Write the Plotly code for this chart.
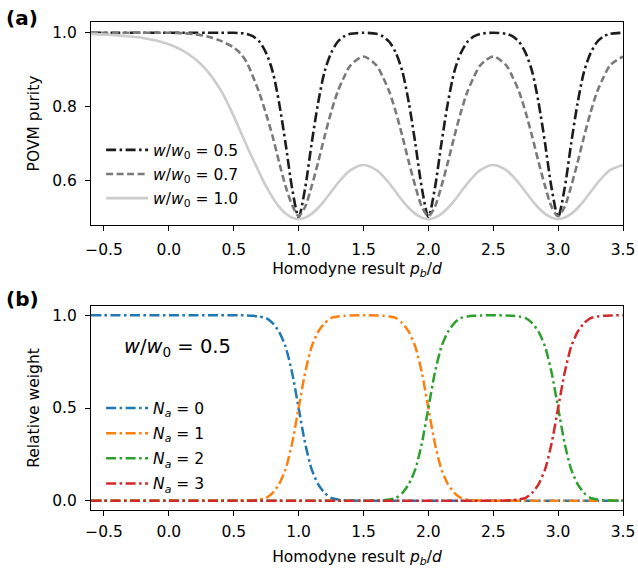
import plotly.graph_objects as go

# ---------------- data ----------------
p_b = [-0.6, -0.5, -0.4, -0.3, -0.2, -0.1, 0.0, 0.1, 0.2, 0.3, 0.4, 0.5, 0.55, 0.6, 0.65, 0.7, 0.75, 0.8, 0.85, 0.9, 0.95,
       1.0, 1.05, 1.1, 1.15, 1.2, 1.25, 1.3, 1.35, 1.4, 1.5, 1.6, 1.65, 1.7, 1.75, 1.8, 1.85, 1.9, 1.95,
       2.0, 2.05, 2.1, 2.15, 2.2, 2.25, 2.3, 2.35, 2.4, 2.5, 2.6, 2.65, 2.7, 2.75, 2.8, 2.85, 2.9, 2.95,
       3.0, 3.05, 3.1, 3.15, 3.2, 3.25, 3.3, 3.35, 3.4, 3.5]

purity_w05 = [1.0, 1.0, 1.0, 1.0, 1.0, 1.0, 1.0, 1.0, 1.0, 1.0, 1.0, 1.0, 0.999, 0.997, 0.99, 0.975, 0.945, 0.895, 0.81, 0.70, 0.58,
              0.502, 0.58, 0.70, 0.81, 0.895, 0.945, 0.975, 0.99, 0.997, 1.0, 0.997, 0.99, 0.975, 0.945, 0.895, 0.81, 0.70, 0.58,
              0.503, 0.58, 0.70, 0.81, 0.895, 0.945, 0.975, 0.99, 0.997, 1.0, 0.997, 0.99, 0.975, 0.945, 0.895, 0.81, 0.70, 0.58,
              0.503, 0.58, 0.70, 0.81, 0.895, 0.945, 0.975, 0.99, 0.997, 1.0]

purity_w07 = [1.0, 1.0, 1.0, 1.0, 1.0, 1.0, 1.0, 0.999, 0.996, 0.99, 0.978, 0.96, 0.945, 0.92, 0.88, 0.835, 0.78, 0.72, 0.65, 0.585, 0.535,
              0.505, 0.53, 0.585, 0.65, 0.72, 0.785, 0.84, 0.88, 0.912, 0.936, 0.912, 0.88, 0.84, 0.785, 0.72, 0.65, 0.585, 0.53,
              0.505, 0.53, 0.585, 0.65, 0.72, 0.785, 0.84, 0.88, 0.912, 0.936, 0.912, 0.88, 0.84, 0.785, 0.72, 0.65, 0.585, 0.53,
              0.505, 0.53, 0.585, 0.65, 0.72, 0.785, 0.84, 0.88, 0.912, 0.936]

purity_w10 = [0.997, 0.995, 0.993, 0.99, 0.986, 0.979, 0.969, 0.953, 0.93, 0.895, 0.845, 0.775, 0.735, 0.695, 0.657, 0.62, 0.585, 0.555, 0.53, 0.512, 0.501,
              0.497, 0.501, 0.511, 0.527, 0.547, 0.57, 0.593, 0.613, 0.629, 0.643, 0.629, 0.613, 0.593, 0.57, 0.547, 0.527, 0.511, 0.501,
              0.497, 0.501, 0.511, 0.527, 0.547, 0.57, 0.593, 0.613, 0.629, 0.643, 0.629, 0.613, 0.593, 0.57, 0.547, 0.527, 0.511, 0.501,
              0.497, 0.501, 0.511, 0.527, 0.547, 0.57, 0.593, 0.613, 0.629, 0.643]

weight_N0 = [1.0, 1.0, 1.0, 1.0, 1.0, 1.0, 1.0, 1.0, 1.0, 1.0, 1.0, 1.0, 1.0, 0.999, 0.997, 0.993, 0.985, 0.958, 0.91, 0.83, 0.69,
             0.5, 0.31, 0.17, 0.09, 0.042, 0.015, 0.007, 0.003, 0.001, 0.0, 0.0, 0.0, 0.0, 0.0, 0.0, 0.0, 0.0, 0.0,
             0.0, 0.0, 0.0, 0.0, 0.0, 0.0, 0.0, 0.0, 0.0, 0.0, 0.0, 0.0, 0.0, 0.0, 0.0, 0.0, 0.0, 0.0,
             0.0, 0.0, 0.0, 0.0, 0.0, 0.0, 0.0, 0.0, 0.0, 0.0]

weight_N1 = [0.0, 0.0, 0.0, 0.0, 0.0, 0.0, 0.0, 0.0, 0.0, 0.0, 0.0, 0.0, 0.0, 0.001, 0.003, 0.007, 0.015, 0.042, 0.09, 0.17, 0.31,
             0.5, 0.69, 0.83, 0.91, 0.958, 0.985, 0.993, 0.997, 0.999, 1.0, 0.999, 0.997, 0.993, 0.985, 0.958, 0.91, 0.83, 0.69,
             0.5, 0.31, 0.17, 0.09, 0.042, 0.015, 0.007, 0.003, 0.001, 0.0, 0.0, 0.0, 0.0, 0.0, 0.0, 0.0, 0.0, 0.0,
             0.0, 0.0, 0.0, 0.0, 0.0, 0.0, 0.0, 0.0, 0.0, 0.0]

weight_N2 = [0.0, 0.0, 0.0, 0.0, 0.0, 0.0, 0.0, 0.0, 0.0, 0.0, 0.0, 0.0, 0.0, 0.0, 0.0, 0.0, 0.0, 0.0, 0.0, 0.0, 0.0,
             0.0, 0.0, 0.0, 0.0, 0.0, 0.0, 0.0, 0.0, 0.0, 0.0, 0.001, 0.003, 0.007, 0.015, 0.042, 0.09, 0.17, 0.31,
             0.5, 0.69, 0.83, 0.91, 0.958, 0.985, 0.993, 0.997, 0.999, 1.0, 0.999, 0.997, 0.993, 0.985, 0.958, 0.91, 0.83, 0.69,
             0.5, 0.31, 0.17, 0.09, 0.042, 0.015, 0.007, 0.003, 0.001, 0.0]

weight_N3 = [0.0, 0.0, 0.0, 0.0, 0.0, 0.0, 0.0, 0.0, 0.0, 0.0, 0.0, 0.0, 0.0, 0.0, 0.0, 0.0, 0.0, 0.0, 0.0, 0.0, 0.0,
             0.0, 0.0, 0.0, 0.0, 0.0, 0.0, 0.0, 0.0, 0.0, 0.0, 0.0, 0.0, 0.0, 0.0, 0.0, 0.0, 0.0, 0.0,
             0.0, 0.0, 0.0, 0.0, 0.0, 0.0, 0.0, 0.0, 0.0, 0.0, 0.001, 0.003, 0.007, 0.015, 0.042, 0.09, 0.17, 0.31,
             0.5, 0.69, 0.83, 0.91, 0.958, 0.985, 0.993, 0.997, 0.999, 1.0]

purity_labels = ["<i>w</i>/<i>w</i><sub>0</sub> = 0.5",
                 "<i>w</i>/<i>w</i><sub>0</sub> = 0.7",
                 "<i>w</i>/<i>w</i><sub>0</sub> = 1.0"]
weight_labels = ["<i>N</i><sub><i>a</i></sub> = 0", "<i>N</i><sub><i>a</i></sub> = 1",
                 "<i>N</i><sub><i>a</i></sub> = 2", "<i>N</i><sub><i>a</i></sub> = 3"]
x_ticks = [-0.5, 0.0, 0.5, 1.0, 1.5, 2.0, 2.5, 3.0, 3.5]
purity_ticks = [0.6, 0.8, 1.0]
weight_ticks = [0.0, 0.5, 1.0]

# ---------------- figure ----------------
FONT = "DejaVu Sans"
DASHDOT = "10px,3.5px,2.5px,3.5px"

fig = go.Figure()

top_styles = [("#1c1c1c", DASHDOT), ("#7a7a7a", "7px,3.5px"), ("#cccccc", "solid")]
for ys, lab, (col, dash), grp in zip([purity_w05, purity_w07, purity_w10], purity_labels, top_styles, ["a", "b", "c"]):
    fig.add_trace(go.Scatter(x=p_b, y=ys, mode="lines", name=lab, legend="legend", legendgroup=grp,
                             line=dict(color=col, width=2.6, dash=dash, shape="spline", smoothing=0.8),
                             xaxis="x", yaxis="y"))

bottom_colors = ["#1f77b4", "#ff7f0e", "#2ca02c", "#d62728"]
for ys, lab, col, grp in zip([weight_N0, weight_N1, weight_N2, weight_N3], weight_labels, bottom_colors, ["d", "e", "f", "g"]):
    fig.add_trace(go.Scatter(x=p_b, y=ys, mode="lines", name=lab, legend="legend2", legendgroup=grp,
                             line=dict(color=col, width=2.5, dash=DASHDOT, shape="spline", smoothing=0.6),
                             xaxis="x2", yaxis="y2"))

axis_common = dict(showline=True, mirror=True, linecolor="black", linewidth=1.1, ticks="outside",
                   ticklen=5, tickwidth=1.1, tickcolor="black", showgrid=False, zeroline=False,
                   automargin=False, tickfont=dict(family=FONT, size=15.5, color="black"))
xtitle = "Homodyne result <i>p</i><sub><i>b</i></sub>/<i>d</i>"
TFONT = dict(family=FONT, size=15.5, color="black")

fig.update_layout(
    width=638, height=572,
    margin=dict(l=91, r=15, t=22, b=62),
    paper_bgcolor="white", plot_bgcolor="white",
    font=dict(family=FONT, size=15, color="black"),
    xaxis=dict(domain=[0, 1], anchor="y", range=[-0.6, 3.5], tickvals=x_ticks, tickformat=".1f",
               ticklabelstandoff=5, title=dict(text=xtitle, font=TFONT, standoff=5), **axis_common),
    yaxis=dict(domain=[0.584, 1.0], anchor="x", range=[0.481, 1.029], tickvals=purity_ticks, tickformat=".1f",
               ticklabelstandoff=5, title=dict(text="POVM purity", font=TFONT, standoff=8), **axis_common),
    xaxis2=dict(domain=[0, 1], anchor="y2", range=[-0.6, 3.5], tickvals=x_ticks, tickformat=".1f",
                ticklabelstandoff=2, title=dict(text=xtitle, font=TFONT, standoff=11), **axis_common),
    yaxis2=dict(domain=[0.0, 0.418], anchor="x2", range=[-0.05, 1.05], tickvals=weight_ticks, tickformat=".1f",
                ticklabelstandoff=5, title=dict(text="Relative weight", font=TFONT, standoff=8), **axis_common),
    legend=dict(x=0.019, y=0.772, xanchor="left", yanchor="top", bgcolor="rgba(0,0,0,0)", itemwidth=42,
                font=dict(family=FONT, size=15.5), tracegroupgap=1),
    legend2=dict(x=0.019, y=0.243, xanchor="left", yanchor="top", bgcolor="rgba(0,0,0,0)", itemwidth=42,
                 font=dict(family=FONT, size=15.5), tracegroupgap=2),
    annotations=[
        dict(text="<b>(a)</b>", xref="paper", yref="paper", x=-0.164, y=1.008, xanchor="left", yanchor="middle",
             showarrow=False, font=dict(family=FONT, size=20)),
        dict(text="<b>(b)</b>", xref="paper", yref="paper", x=-0.164, y=0.432, xanchor="left", yanchor="middle",
             showarrow=False, font=dict(family=FONT, size=20)),
        dict(text="<i>w</i>/<i>w</i><sub>0</sub> = 0.5", xref="paper", yref="paper", x=0.058, y=0.334,
             xanchor="left", yanchor="middle", showarrow=False, font=dict(family=FONT, size=19.5)),
    ],
)

fig.write_html("out.html", config={"displayModeBar": False},
               post_script="document.body.style.margin='0';document.body.style.overflow='hidden';")
